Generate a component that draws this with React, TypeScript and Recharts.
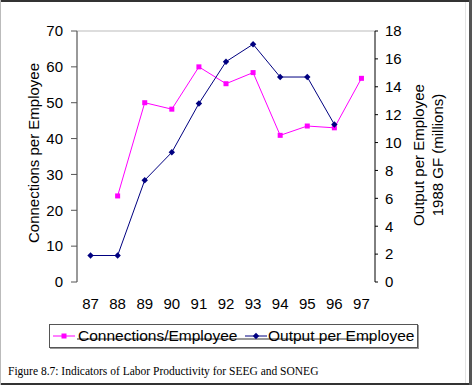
import React from "react";
import { LineChart, Line, XAxis, YAxis, ReferenceLine } from "recharts";

const years = [87, 88, 89, 90, 91, 92, 93, 94, 95, 96, 97];
const connections: (number | null)[] = [null, 24, 50, 48.2, 60, 55.3, 58.4, 40.9, 43.5, 43.0, 56.8];
const output: (number | null)[] = [1.9, 1.9, 7.3, 9.3, 12.8, 15.8, 17.05, 14.7, 14.7, 11.3, null];
const leftTicks = [0, 10, 20, 30, 40, 50, 60, 70];
const rightTicks = [0, 2, 4, 6, 8, 10, 12, 14, 16, 18];
const xBoundaryTicks = [86.5, 87.5, 88.5, 89.5, 90.5, 91.5, 92.5, 93.5, 94.5, 95.5, 96.5, 97.5];
const seriesNames = ["Connections/Employee", "Output per Employee"];
const leftLabel = "Connections per Employee";
const rightLabel1 = "Output per Employee";
const rightLabel2 = "1988 GF (millions)";
const caption = "Figure 8.7: Indicators of Labor Productivity for SEEG and SONEG";

const data = years.map((y, i) => ({ year: y, conn: connections[i], out: output[i] }));

const PINK = "#ff00ff";
const NAVY = "#000080";
const FONT = "'Liberation Sans', Arial, sans-serif";

const SquareDot = (props: any) => {
  const { cx, cy, value } = props;
  if (value == null || cx == null || cy == null) return null;
  return <rect x={cx - 2.5} y={cy - 2.5} width={5} height={5} fill={PINK} />;
};

const DiamondDot = (props: any) => {
  const { cx, cy, value } = props;
  if (value == null || cx == null || cy == null) return null;
  return <polygon points={`${cx},${cy - 3.2} ${cx + 3.2},${cy} ${cx},${cy + 3.2} ${cx - 3.2},${cy}`} fill={NAVY} />;
};

const LegendMarker = ({ color, kind }: { color: string; kind: string }) => (
  <svg width={22} height={12} style={{ display: "block" }}>
    <line x1={0} y1={6} x2={22} y2={6} stroke={color} strokeWidth={1} />
    {kind === "square" ? (
      <rect x={8.5} y={3.5} width={5} height={5} fill={color} />
    ) : (
      <polygon points="11,2.8 14.2,6 11,9.2 7.8,6" fill={color} />
    )}
  </svg>
);

export default function App() {
  return (
    <div style={{ position: "absolute", left: 0, top: 0, width: 472, height: 385, background: "#fff", overflow: "hidden" }}>
      <div style={{ position: "absolute", left: 0, top: 0, width: 472, height: 2, background: "#333" }} />
      <div style={{ position: "absolute", left: 0, top: 383, width: 472, height: 2, background: "#333" }} />
      <div style={{ position: "absolute", left: 469, top: 0, width: 3, height: 385, background: "#555" }} />
      <div style={{ position: "absolute", left: 0, top: 0, width: 1, height: 385, background: "#bbb" }} />
      <div style={{ position: "absolute", left: 465, top: 2, width: 1, height: 381, background: "#e4e4e4" }} />
      <div style={{ position: "absolute", left: 0, top: 0 }}>
        <LineChart width={472} height={340} data={data} margin={{ top: 31, right: 0, bottom: 0, left: 0 }}>
          <XAxis
            xAxisId="in"
            type="number"
            dataKey="year"
            domain={[86.5, 97.5]}
            ticks={xBoundaryTicks}
            height={10}
            mirror
            tick={false}
            tickSize={4}
            axisLine={false}
            tickLine={{ stroke: "#555" }}
          />
          <XAxis
            xAxisId="out"
            type="number"
            dataKey="year"
            domain={[86.5, 97.5]}
            ticks={xBoundaryTicks}
            height={1}
            tick={false}
            tickSize={4}
            axisLine={{ stroke: "#777", strokeWidth: 1.5 }}
            tickLine={{ stroke: "#555" }}
          />
          <XAxis
            xAxisId="lbl"
            type="number"
            dataKey="year"
            domain={[86.5, 97.5]}
            ticks={years}
            height={57}
            tickSize={0}
            tickMargin={16}
            axisLine={false}
            tickLine={false}
            tick={{ fill: "#000", fontSize: 15, fontFamily: FONT }}
            interval={0}
          />
          <YAxis
            yAxisId="left"
            orientation="left"
            width={77}
            domain={[0, 70]}
            ticks={leftTicks}
            interval={0}
            tickSize={6}
            tickMargin={8}
            axisLine={{ stroke: "#777", strokeWidth: 1.5 }}
            tickLine={{ stroke: "#555" }}
            tick={{ fill: "#000", fontSize: 15, fontFamily: FONT }}
            label={{
              content: () => (
                <text
                  x={33}
                  y={153}
                  transform="rotate(-90 33 153)"
                  textAnchor="middle"
                  dominantBaseline="central"
                  fontSize={15}
                  fontFamily={FONT}
                  fill="#000"
                >
                  {leftLabel}
                </text>
              ),
            }}
          />
          <YAxis
            yAxisId="rightIn"
            orientation="right"
            width={10}
            mirror
            domain={[0, 18]}
            ticks={rightTicks}
            interval={0}
            tickSize={3}
            tick={false}
            axisLine={false}
            tickLine={{ stroke: "#000" }}
          />
          <YAxis
            yAxisId="right"
            orientation="right"
            width={97}
            domain={[0, 18]}
            ticks={rightTicks}
            interval={0}
            tickSize={3}
            tickMargin={7}
            axisLine={{ stroke: "#000", strokeWidth: 1 }}
            tickLine={{ stroke: "#000" }}
            tick={{ fill: "#000", fontSize: 15, fontFamily: FONT, textAnchor: "start" }}
            label={{
              content: () => (
                <g>
                  <text
                    x={418}
                    y={155}
                    transform="rotate(-90 418 155)"
                    textAnchor="middle"
                    dominantBaseline="central"
                    fontSize={15}
                    fontFamily={FONT}
                    fill="#000"
                  >
                    {rightLabel1}
                  </text>
                  <text
                    x={437}
                    y={155}
                    transform="rotate(-90 437 155)"
                    textAnchor="middle"
                    dominantBaseline="central"
                    fontSize={15}
                    fontFamily={FONT}
                    fill="#000"
                  >
                    {rightLabel2}
                  </text>
                </g>
              ),
            }}
          />
          <ReferenceLine yAxisId="left" xAxisId="lbl" y={70} stroke="#bbb" strokeWidth={1} />
          <Line
            xAxisId="lbl"
            yAxisId="left"
            dataKey="conn"
            stroke={PINK}
            strokeWidth={1}
            dot={<SquareDot />}
            activeDot={false}
            isAnimationActive={false}
            connectNulls={false}
          />
          <Line
            xAxisId="lbl"
            yAxisId="right"
            dataKey="out"
            stroke={NAVY}
            strokeWidth={1}
            dot={<DiamondDot />}
            activeDot={false}
            isAnimationActive={false}
            connectNulls={false}
          />
        </LineChart>
      </div>
      <div
        style={{
          position: "absolute",
          left: 49,
          top: 324,
          width: 367,
          height: 22,
          border: "1px solid #555",
          boxShadow: "1px 1px 0 #999",
          fontFamily: FONT,
          fontSize: 15.5,
          color: "#000",
        }}
      >
        <div style={{ position: "absolute", left: 3, top: 5 }}>
          <LegendMarker color={PINK} kind="square" />
        </div>
        <div style={{ position: "absolute", left: 28, top: 1, lineHeight: "20px", whiteSpace: "nowrap" }}>{seriesNames[0]}</div>
        <div style={{ position: "absolute", left: 195, top: 5 }}>
          <LegendMarker color={NAVY} kind="diamond" />
        </div>
        <div style={{ position: "absolute", left: 218, top: 1, lineHeight: "20px", whiteSpace: "nowrap" }}>{seriesNames[1]}</div>
      </div>
      <div
        style={{
          position: "absolute",
          left: 8,
          top: 366,
          fontFamily: "'Liberation Serif', 'Times New Roman', serif",
          fontSize: 11.5,
          lineHeight: 1,
          whiteSpace: "nowrap",
          color: "#000",
        }}
      >
        {caption}
      </div>
    </div>
  );
}
